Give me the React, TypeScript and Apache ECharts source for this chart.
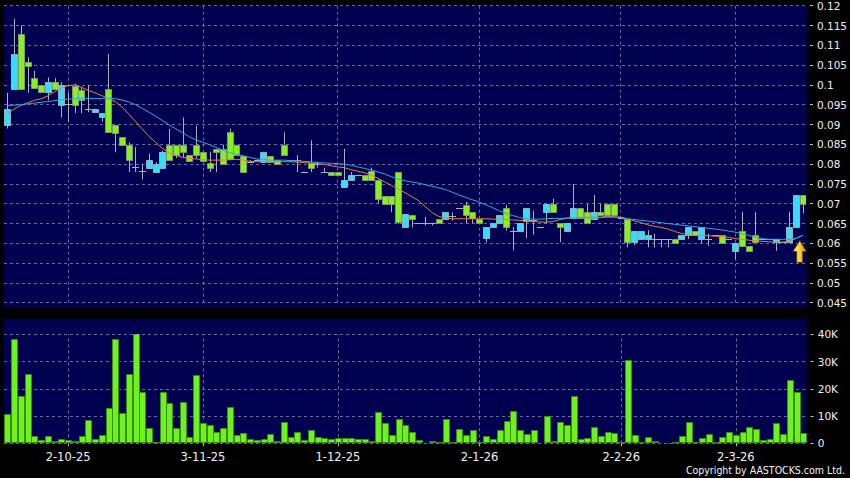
import React, { useEffect, useRef } from "react";
import * as echarts from "echarts";

const dates = [
  "18-9-25","19-9-25","22-9-25","23-9-25","24-9-25","25-9-25","26-9-25","29-9-25","30-9-25",
  "2-10-25","3-10-25","6-10-25","8-10-25","9-10-25","10-10-25","13-10-25","14-10-25","15-10-25","16-10-25","17-10-25",
  "20-10-25","21-10-25","22-10-25","23-10-25","24-10-25","27-10-25","28-10-25","30-10-25","31-10-25",
  "3-11-25","4-11-25","5-11-25","6-11-25","7-11-25","10-11-25","11-11-25","12-11-25","13-11-25","14-11-25",
  "17-11-25","18-11-25","19-11-25","20-11-25","21-11-25","24-11-25","25-11-25","26-11-25","27-11-25","28-11-25",
  "1-12-25","2-12-25","3-12-25","4-12-25","5-12-25","8-12-25","9-12-25","10-12-25","11-12-25","12-12-25",
  "15-12-25","16-12-25","17-12-25","18-12-25","19-12-25","22-12-25","23-12-25","24-12-25","29-12-25","30-12-25","31-12-25",
  "2-1-26","5-1-26","6-1-26","7-1-26","8-1-26","9-1-26","12-1-26","13-1-26","14-1-26","15-1-26","16-1-26",
  "19-1-26","20-1-26","21-1-26","22-1-26","23-1-26","26-1-26","27-1-26","28-1-26","29-1-26","30-1-26",
  "2-2-26","3-2-26","4-2-26","5-2-26","6-2-26","9-2-26","10-2-26","11-2-26","12-2-26","13-2-26",
  "16-2-26","20-2-26","23-2-26","24-2-26","25-2-26","26-2-26","27-2-26",
  "2-3-26","3-3-26","4-3-26","5-3-26","6-3-26","9-3-26","10-3-26","11-3-26","12-3-26","13-3-26","16-3-26"
];

const tickLabels = ["2-10-25", "3-11-25", "1-12-25", "2-1-26", "2-2-26", "2-3-26"];

// [open, close, low, high]
const candles: number[][] = [
  [0.0899, 0.094, 0.089, 0.098], [0.099, 0.1078, 0.099, 0.1167], [0.1129, 0.099, 0.099, 0.115],
  [0.1057, 0.1047, 0.098, 0.107], [0.1017, 0.0992, 0.0992, 0.1036], [0.1, 0.0982, 0.0982, 0.1],
  [0.0982, 0.1007, 0.0961, 0.1019], [0.1007, 0.099, 0.099, 0.1017], [0.095, 0.1, 0.0918, 0.1007],
  [0.0952, 0.0952, 0.0907, 0.098], [0.0998, 0.095, 0.0929, 0.1003], [0.0988, 0.0961, 0.0929, 0.0995],
  [0.094, 0.094, 0.0931, 0.1], [0.0931, 0.094, 0.0931, 0.094], [0.0918, 0.0929, 0.0907, 0.0929],
  [0.099, 0.088, 0.088, 0.1078], [0.0899, 0.0879, 0.083, 0.0899], [0.0868, 0.0849, 0.0849, 0.0868],
  [0.0847, 0.0811, 0.078, 0.0855], [0.0792, 0.0792, 0.078, 0.0843], [0.0782, 0.0782, 0.0761, 0.0801],
  [0.0791, 0.0811, 0.0791, 0.0826], [0.0781, 0.0801, 0.0781, 0.0805], [0.0791, 0.083, 0.0791, 0.0834],
  [0.0847, 0.0811, 0.0811, 0.0889], [0.0847, 0.0822, 0.0815, 0.0847], [0.0847, 0.083, 0.0815, 0.0918],
  [0.0822, 0.0809, 0.0805, 0.0822], [0.0847, 0.0822, 0.0815, 0.0897], [0.083, 0.0808, 0.0805, 0.083],
  [0.0802, 0.0791, 0.078, 0.0831], [0.0839, 0.0831, 0.078, 0.0839], [0.0837, 0.0801, 0.0801, 0.0849],
  [0.088, 0.0812, 0.0812, 0.089], [0.0849, 0.0823, 0.0823, 0.0849], [0.0821, 0.078, 0.078, 0.0821],
  [0.0806, 0.0806, 0.0803, 0.081], [0.081, 0.081, 0.0806, 0.0812], [0.0806, 0.0831, 0.0806, 0.0831],
  [0.0821, 0.0806, 0.0806, 0.0821], [0.081, 0.0801, 0.0801, 0.081], [0.0849, 0.0823, 0.0823, 0.088],
  [0.081, 0.081, 0.0806, 0.081], [0.081, 0.081, 0.078, 0.0823], [0.078, 0.078, 0.078, 0.078],
  [0.0803, 0.0791, 0.078, 0.086], [0.0801, 0.0801, 0.0791, 0.0806], [0.078, 0.078, 0.078, 0.0791],
  [0.078, 0.0772, 0.0772, 0.078], [0.078, 0.0772, 0.0772, 0.078], [0.0741, 0.0761, 0.0741, 0.0839],
  [0.0761, 0.0772, 0.0761, 0.078], [0.0772, 0.0772, 0.0772, 0.0772], [0.0772, 0.0761, 0.0761, 0.0772],
  [0.0782, 0.0761, 0.0761, 0.0791], [0.0761, 0.0711, 0.07, 0.0761], [0.0719, 0.07, 0.07, 0.0719],
  [0.0719, 0.07, 0.0679, 0.0719], [0.078, 0.0655, 0.0648, 0.078], [0.0642, 0.0673, 0.0642, 0.0673],
  [0.0672, 0.0662, 0.064, 0.0672], [0.0652, 0.0652, 0.0652, 0.0652], [0.0652, 0.0652, 0.0645, 0.0667],
  [0.0652, 0.0652, 0.0645, 0.0652], [0.0661, 0.0651, 0.0651, 0.0661], [0.0661, 0.0678, 0.0661, 0.0678],
  [0.067, 0.067, 0.0657, 0.0678], [0.0688, 0.0688, 0.0688, 0.0688], [0.0697, 0.0671, 0.0651, 0.0705],
  [0.0678, 0.0663, 0.0651, 0.0678], [0.0661, 0.0651, 0.0651, 0.0661], [0.0613, 0.0641, 0.0603, 0.0641],
  [0.0641, 0.0651, 0.0641, 0.0651], [0.0651, 0.0671, 0.0651, 0.0671], [0.0688, 0.0641, 0.0632, 0.0697],
  [0.0632, 0.0632, 0.0582, 0.0641], [0.0632, 0.0651, 0.0632, 0.0651], [0.0657, 0.0688, 0.0613, 0.0688],
  [0.066, 0.066, 0.0622, 0.0682], [0.0641, 0.0641, 0.0641, 0.0641], [0.068, 0.07, 0.0651, 0.07],
  [0.07, 0.068, 0.068, 0.0713], [0.0651, 0.0641, 0.0603, 0.0651], [0.0632, 0.0651, 0.0632, 0.0651],
  [0.0663, 0.0689, 0.0663, 0.075], [0.0689, 0.0663, 0.0663, 0.0689], [0.0678, 0.0651, 0.0651, 0.0699],
  [0.0661, 0.0678, 0.0661, 0.0722], [0.0678, 0.0671, 0.0671, 0.07], [0.07, 0.0672, 0.0672, 0.07],
  [0.07, 0.0672, 0.0672, 0.07], [0.0665, 0.0665, 0.0665, 0.0665], [0.0662, 0.0603, 0.059, 0.0662],
  [0.0603, 0.063, 0.0595, 0.063], [0.0611, 0.063, 0.0611, 0.063], [0.0611, 0.062, 0.059, 0.0633],
  [0.0611, 0.0611, 0.059, 0.0624], [0.0611, 0.0611, 0.059, 0.0611], [0.0611, 0.0611, 0.059, 0.0611],
  [0.0611, 0.0601, 0.0601, 0.0611], [0.0611, 0.0621, 0.0611, 0.0621], [0.0621, 0.0641, 0.0611, 0.0641],
  [0.063, 0.0621, 0.0621, 0.063], [0.0611, 0.0641, 0.0601, 0.0641], [0.0611, 0.0611, 0.0594, 0.0624],
  [0.062, 0.062, 0.062, 0.062], [0.062, 0.0601, 0.0601, 0.062], [0.0611, 0.0611, 0.0611, 0.0611],
  [0.0581, 0.0601, 0.056, 0.0601], [0.0632, 0.0594, 0.0594, 0.0679], [0.0592, 0.0581, 0.0581, 0.0592],
  [0.0621, 0.0603, 0.0603, 0.0679], [0.0611, 0.0611, 0.0611, 0.0611], [0.0611, 0.0611, 0.0611, 0.0611],
  [0.0603, 0.0611, 0.0581, 0.0611], [0.0603, 0.0603, 0.0603, 0.0603], [0.0603, 0.0641, 0.0603, 0.0679],
  [0.0641, 0.0721, 0.0641, 0.0721], [0.0721, 0.07, 0.0675, 0.0721]
];

const volumes = [
  10600, 38400, 17400, 25500, 2600, 1300, 2700, 700, 1500, 1200,
  900, 2700, 8500, 1600, 2900, 13000, 38400, 11100, 25600, 43200,
  18800, 5600, 600, 18800, 14800, 5500, 15100, 2300, 25200, 7400,
  6700, 4300, 5500, 13200, 2900, 3700, 1500, 1200, 1600, 3500,
  1000, 8000, 2200, 4100,
  1200, 4900, 2400, 2000, 1700, 1800, 1800, 2000, 1600, 1600,
  1000, 11600, 7300, 2900, 8900, 6700, 4100, 1200, 200, 900,
  500, 9100, 600, 5100, 3000, 4900, 500, 2700, 1600, 4900,
  8300, 11700, 4900, 3400, 4800, 0, 10000, 900, 7800, 6800,
  17400, 1500, 2000, 6000,
  2700, 4300, 3700, 500, 30500, 3000, 500, 2300, 1000, 0,
  200, 600, 2800, 7800, 600, 1800, 3400, 500, 2200, 4300,
  3200, 4000, 6100, 5400, 1100, 1600, 7300, 3300, 23200, 18800,
  3800
];

const maShort = [
  0.0927, 0.0939, 0.0948, 0.0955, 0.0961, 0.0965, 0.0972, 0.0983, 0.0992, 0.0998,
  0.1, 0.0994, 0.0986, 0.098, 0.0973, 0.0966, 0.0958, 0.0944, 0.0927, 0.0908,
  0.0889, 0.087, 0.0855, 0.084, 0.0828, 0.0822, 0.0817, 0.0815, 0.0813, 0.0811,
  0.081, 0.081, 0.081, 0.0811, 0.0812, 0.081, 0.0807, 0.0806, 0.0806, 0.0806,
  0.0806, 0.0806, 0.0806, 0.0805, 0.0804, 0.0803, 0.0801, 0.0799, 0.0796, 0.0793,
  0.0791, 0.0786, 0.0782, 0.0778, 0.0772, 0.0764, 0.0755, 0.0746, 0.0737, 0.0728,
  0.0718, 0.0708, 0.0693, 0.0678, 0.0668, 0.0663, 0.0662, 0.0662, 0.0662, 0.0662,
  0.0662, 0.0662, 0.0661, 0.0661, 0.066, 0.0659, 0.0658, 0.0657, 0.0655, 0.0654,
  0.0653, 0.0655, 0.066, 0.0663, 0.0665, 0.0666, 0.0666, 0.0666, 0.0666, 0.0668,
  0.0667, 0.0666, 0.0662, 0.0657, 0.0652, 0.0647, 0.0643, 0.064, 0.0636, 0.063,
  0.0625, 0.0622, 0.062, 0.062, 0.0619, 0.0618, 0.0617, 0.0615, 0.0612, 0.061,
  0.0608, 0.0606, 0.0605, 0.0604, 0.0603, 0.0603, 0.0605, 0.0612, 0.062
];

const maLong = [
  0.0948, 0.0949, 0.095, 0.0952, 0.0954, 0.0956, 0.0958, 0.096, 0.0962, 0.0964,
  0.0965, 0.0966, 0.0966, 0.0966, 0.0966, 0.0966, 0.0965, 0.0962, 0.0957, 0.095,
  0.0941, 0.0931, 0.0921, 0.091, 0.0899, 0.0889, 0.0879, 0.0869, 0.0861, 0.0855,
  0.0849, 0.0842, 0.0835, 0.0829, 0.0825, 0.0821, 0.0817, 0.0813, 0.0812, 0.081,
  0.081, 0.081, 0.0809, 0.0808, 0.0807, 0.0806, 0.0804, 0.0803, 0.0802, 0.0801,
  0.08, 0.0797, 0.0793, 0.0789, 0.0785, 0.078, 0.0775, 0.0768, 0.0762, 0.0758,
  0.0755, 0.0752, 0.0748, 0.0744, 0.074, 0.0736, 0.0729, 0.0722, 0.0716, 0.071,
  0.0704, 0.0697, 0.069, 0.0682, 0.0676, 0.067, 0.0665, 0.0662, 0.0661, 0.0661,
  0.0662, 0.0663, 0.0663, 0.0664, 0.0664, 0.0664, 0.0664, 0.0664, 0.0665, 0.0666,
  0.0666, 0.0665, 0.0662, 0.066, 0.0658, 0.0656, 0.0654, 0.0652, 0.065, 0.0648,
  0.0646, 0.0644, 0.0642, 0.064, 0.0638, 0.0636, 0.0634, 0.0631, 0.0628, 0.0624,
  0.062, 0.0616, 0.0612, 0.061, 0.061, 0.061, 0.061, 0.0612, 0.062
];

const NAVY = "#000050";
const GRID_LINE = "#6a6aa2";
const LABEL = "#f0f0f0";
const CYAN = "#38dcfa";
const CYAN_BORDER = "#8ab4c4";
const GREEN = "#86f020";
const GREEN_BORDER = "#7f9a62";
const WICK = "#aeaebe";
const VOL = "#6ef21c";
const VOL_BORDER = "#3c8a14";
const MA_SHORT = "#e0843e";
const MA_LONG = "#38a4e6";

export default function App() {
  const ref = useRef<HTMLDivElement>(null);

  useEffect(() => {
    const chart = echarts.init(ref.current as HTMLDivElement, undefined, { renderer: "svg" });
    const tickSet = new Set(tickLabels);
    const candleData = candles.map((c, i) => [i, c[0], c[1], c[2], c[3]]);
    const volumeData = volumes.map((v, i) => [i, v]);
    const gridMarks = tickLabels.map((t) => ({ xAxis: t }));

    const markLine = {
      silent: true,
      z: 1,
      symbol: ["none", "none"],
      label: { show: false },
      lineStyle: { color: GRID_LINE, type: [3, 3], width: 1 },
      emphasis: { disabled: true },
      data: gridMarks,
    };

    const renderCandle = (params: any, api: any) => {
      const i = api.value(0);
      const o = api.value(1);
      const c = api.value(2);
      const l = api.value(3);
      const h = api.value(4);
      const x = Math.round(api.coord([i, o])[0]);
      const yO = api.coord([i, o])[1];
      const yC = api.coord([i, c])[1];
      const yL = api.coord([i, l])[1];
      const yH = api.coord([i, h])[1];
      const children: any[] = [];
      if (yL - yH > 0.5) {
        children.push({
          type: "line",
          shape: { x1: x + 0.5, y1: yH, x2: x + 0.5, y2: yL },
          style: { stroke: WICK, lineWidth: 1 },
        });
      }
      if (o === c) {
        const y = Math.round(yO) + 0.5;
        children.push({
          type: "line",
          shape: { x1: x - 3, y1: y, x2: x + 4, y2: y },
          style: { stroke: WICK, lineWidth: 1 },
        });
      } else {
        const up = c > o;
        const top = Math.round(Math.min(yO, yC)) + 0.5;
        const bot = Math.round(Math.max(yO, yC)) + 0.5;
        children.push({
          type: "rect",
          shape: { x: x - 2.5, y: top, width: 6, height: Math.max(bot - top, 1) },
          style: {
            fill: up ? CYAN : GREEN,
            stroke: up ? CYAN_BORDER : GREEN_BORDER,
            lineWidth: 1,
          },
        });
      }
      return { type: "group", children };
    };

    const renderVolume = (params: any, api: any) => {
      const i = api.value(0);
      const v = api.value(1);
      if (!v) return null;
      const x = Math.round(api.coord([i, 0])[0]);
      const y0 = Math.round(api.coord([i, 0])[1]) - 0.5;
      const y1 = Math.round(api.coord([i, v])[1]) + 0.5;
      return {
        type: "rect",
        shape: { x: x - 2.5, y: y1, width: 6, height: Math.max(y0 - y1, 1) },
        style: { fill: VOL, stroke: VOL_BORDER, lineWidth: 1 },
      };
    };

    const option: any = {
      animation: false,
      backgroundColor: "#000000",
      graphic: [
        {
          type: "rect",
          z: -100,
          silent: true,
          shape: { x: 4, y: 6, width: 802.7, height: 301 },
          style: { fill: NAVY },
        },
        {
          type: "rect",
          z: -100,
          silent: true,
          shape: { x: 4, y: 319, width: 802.7, height: 124.3 },
          style: { fill: NAVY },
        },
        {
          type: "polygon",
          z: 50,
          silent: true,
          shape: {
            points: [
              [799.7, 240.5],
              [806.5, 251.5],
              [802.7, 251.5],
              [802.7, 262.5],
              [796.7, 262.5],
              [796.7, 251.5],
              [792.9, 251.5],
            ],
          },
          style: {
            fill: new echarts.graphic.LinearGradient(0, 0, 1, 0, [
              { offset: 0, color: "#fff7b0" },
              { offset: 0.45, color: "#ffd23c" },
              { offset: 1, color: "#d08e00" },
            ]),
            stroke: "#5a3e00",
            lineWidth: 1,
          },
        },
        {
          type: "text",
          z: 50,
          silent: true,
          style: {
            x: 845,
            y: 470,
            text: "Copyright by AASTOCKS.com Ltd.",
            fill: LABEL,
            font: '10.5px "DejaVu Sans Condensed", "DejaVu Sans", sans-serif',
            textAlign: "right",
            textVerticalAlign: "middle",
          },
        },
      ],
      grid: [
        { left: 4, right: 43.3, top: 5.7, height: 297 },
        { left: 4, right: 43.3, top: 334.3, height: 109 },
      ],
      xAxis: [
        {
          type: "category",
          gridIndex: 0,
          data: dates,
          boundaryGap: true,
          axisLine: { show: false },
          axisTick: { show: false },
          axisLabel: { show: false },
          splitLine: { show: false },
        },
        {
          type: "category",
          gridIndex: 1,
          data: dates,
          boundaryGap: true,
          offset: 3,
          axisLine: { show: false },
          axisTick: {
            show: true,
            alignWithLabel: true,
            length: 3,
            interval: (_i: number, v: string) => tickSet.has(v),
            lineStyle: { color: "#b8b8b8" },
          },
          axisLabel: {
            interval: (_i: number, v: string) => tickSet.has(v),
            color: LABEL,
            fontSize: 11.5,
            fontFamily: "DejaVu Sans",
            margin: 5,
          },
          splitLine: { show: false },
        },
      ],
      yAxis: [
        {
          type: "value",
          gridIndex: 0,
          position: "right",
          min: 0.045,
          max: 0.12,
          interval: 0.005,
          offset: 4,
          axisLine: { show: false },
          axisTick: { show: true, length: 3, lineStyle: { color: "#c8c8c8" } },
          axisLabel: {
            color: LABEL,
            fontSize: 10.5,
            fontFamily: "DejaVu Sans",
            margin: 7,
            formatter: (v: number) => String(parseFloat(v.toFixed(3))),
          },
          splitLine: { show: true, lineStyle: { color: GRID_LINE, type: [3, 3], width: 1 } },
        },
        {
          type: "value",
          gridIndex: 1,
          position: "right",
          min: 0,
          max: 40000,
          interval: 10000,
          offset: 4,
          axisLine: { show: false },
          axisTick: { show: true, length: 3, lineStyle: { color: "#c8c8c8" } },
          axisLabel: {
            color: LABEL,
            fontSize: 10.5,
            fontFamily: "DejaVu Sans",
            margin: 7,
            formatter: (v: number) => (v === 0 ? "0" : v / 1000 + "K"),
          },
          splitLine: { show: true, lineStyle: { color: GRID_LINE, type: [3, 3], width: 1 } },
        },
      ],
      series: [
        {
          type: "custom",
          name: "price",
          xAxisIndex: 0,
          yAxisIndex: 0,
          z: 2,
          renderItem: renderCandle,
          encode: { x: 0, y: [1, 2, 3, 4] },
          data: candleData,
          clip: true,
        },
        {
          type: "line",
          name: "MA short",
          xAxisIndex: 0,
          yAxisIndex: 0,
          z: 3,
          data: maShort,
          showSymbol: false,
          symbol: "none",
          lineStyle: { color: MA_SHORT, width: 1 },
          markLine,
        },
        {
          type: "line",
          name: "MA long",
          xAxisIndex: 0,
          yAxisIndex: 0,
          z: 3,
          data: maLong,
          showSymbol: false,
          symbol: "none",
          lineStyle: { color: MA_LONG, width: 1 },
        },
        {
          type: "custom",
          name: "volume",
          xAxisIndex: 1,
          yAxisIndex: 1,
          z: 2,
          renderItem: renderVolume,
          encode: { x: 0, y: 1 },
          data: volumeData,
          clip: true,
        },
        {
          type: "line",
          name: "volume grid",
          xAxisIndex: 1,
          yAxisIndex: 1,
          z: 1,
          data: [],
          silent: true,
          markLine,
        },
      ],
    };

    chart.setOption(option);
    return () => {
      chart.dispose();
    };
  }, []);

  return (
    <div
      ref={ref}
      style={{ position: "fixed", left: 0, top: 0, width: 850, height: 478, background: "#000" }}
    />
  );
}
